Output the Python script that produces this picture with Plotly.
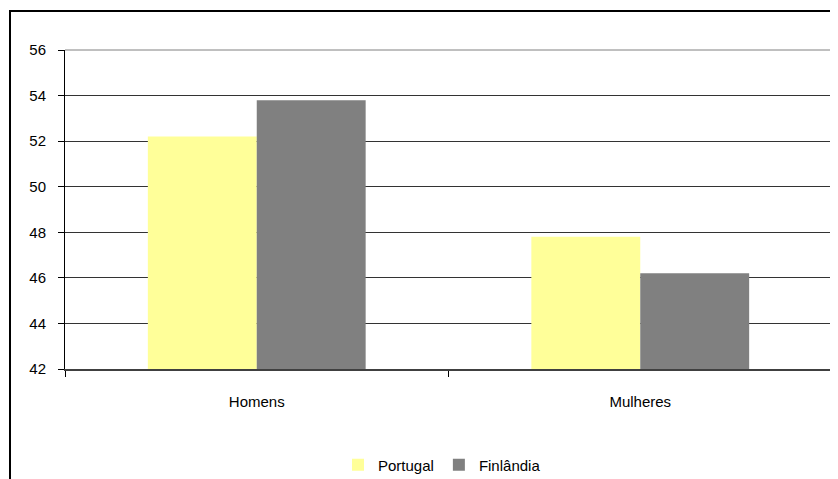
import plotly.graph_objects as go

categories = ["Homens", "Mulheres"]
portugal = [52.2, 47.8]
finlandia = [53.8, 46.2]
y_ticks = [42, 44, 46, 48, 50, 52, 54, 56]

W, H = 838, 479
OFF = 8  # page body margin
# plot area in page pixels: x 65..832, y 50..369
L, T = 65 - OFF, 50 - OFF
R = W - (832 - OFF)
B = H - (369 - OFF)
pw, ph = W - L - R, H - T - B

def px(x):
    return (x - OFF - L) / pw

def py(y):
    return (H - B - (y - OFF)) / ph

fig = go.Figure()
fig.add_trace(go.Bar(name="Portugal", x=categories, y=portugal,
                     marker=dict(color="#FFFF99", line=dict(width=0))))
fig.add_trace(go.Bar(name="Finlândia", x=categories, y=finlandia,
                     marker=dict(color="#808080", line=dict(width=0))))

fig.update_layout(
    width=W, height=H,
    margin=dict(l=L, r=R, t=T, b=B, pad=0, autoexpand=False),
    paper_bgcolor="white", plot_bgcolor="white",
    barmode="group", bargap=0.432, bargroupgap=0,
    font=dict(family="Liberation Sans, Arial, sans-serif", size=15, color="black"),
    showlegend=True,
    legend=dict(orientation="h", x=px(442), xanchor="center",
                yref="container", y=1 - (465 - OFF) / H, yanchor="middle",
                font=dict(size=15), itemwidth=30, bgcolor="rgba(0,0,0,0)",
                tracegroupgap=0),
    xaxis=dict(type="category", tickson="boundaries", ticks="outside", ticklen=6,
               tickcolor="black", showline=True, linecolor="#404040", linewidth=2,
               showgrid=False, tickfont=dict(size=15), ticklabelstandoff=18,
               automargin=False, fixedrange=True),
    yaxis=dict(range=[42, 56], tickvals=y_ticks, ticks="outside", ticklen=6,
               tickcolor="black", showline=True, linecolor="black", linewidth=1,
               showgrid=True, gridcolor="#333333", gridwidth=1, zeroline=False,
               tickfont=dict(size=15), ticklabelstandoff=9, automargin=False,
               fixedrange=True),
    shapes=[
        # right border of plot area
        dict(type="line", xref="paper", yref="paper", x0=1, x1=1, y0=py(371), y1=1,
             line=dict(color="#808080", width=2)),
        # top line of plot area
        dict(type="line", xref="paper", yref="paper", x0=0, x1=1, y0=1, y1=1,
             line=dict(color="#808080", width=1)),
        # outer chart frame (extends beyond the photographed area)
        dict(type="rect", xref="paper", yref="paper", x0=px(10), x1=px(950),
             y0=py(650), y1=py(11), line=dict(color="black", width=2),
             fillcolor="rgba(0,0,0,0)", layer="above"),
    ],
)

fig.write_html("out.html")
